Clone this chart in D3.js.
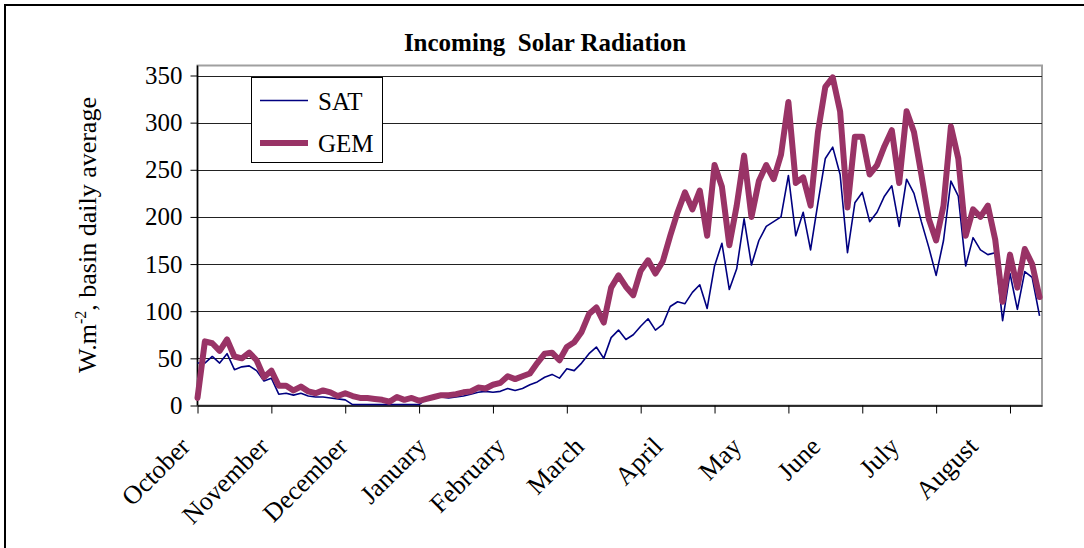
<!DOCTYPE html>
<html>
<head>
<meta charset="utf-8">
<script src="https://cdn.jsdelivr.net/npm/d3@7"></script>
<style>
body { margin: 0; background: #fff; }
text { font-family: "Liberation Serif", "Times New Roman", serif; fill: #000; }
</style>
</head>
<body>
<svg id="chart" width="1084" height="548"></svg>
<script>
// daily series, one value every 3 days starting 1 October
var dayStep = 3;
var satValues = [45,45,52,45,55,38,41,42,37,26,29,12,13,11,13,10,9,9,8,7,
                 6,1,1,1,1,1,1,1,1,1,1,7,8,9,8,9,10,12,14,15,
                 14,15,18,16,18,22,25,30,33,29,39,37,45,55,62,50,72,80,70,75,
                 84,92,80,86,105,110,108,120,128,103,148,172,123,145,198,149,175,190,195,200,
                 244,180,205,165,215,262,274,245,162,215,226,195,205,222,233,190,240,225,195,168,
                 138,175,238,222,148,178,165,160,162,90,140,102,142,136,95];
var gemValues = [8,68,66,58,70,52,50,56,48,30,37,21,21,16,20,15,13,16,14,10,
                 13,10,8,8,7,6,4,9,6,8,5,7,9,11,11,12,14,15,19,18,
                 22,24,31,28,31,34,45,55,56,48,62,67,78,97,104,88,125,138,126,117,
                 143,154,140,153,180,205,226,208,228,180,255,232,170,212,265,200,238,255,240,266,
                 322,236,242,212,290,338,348,312,210,285,285,245,255,275,292,236,312,290,245,198,
                 175,212,296,262,180,208,200,212,176,110,160,125,166,150,115];
var monthNames = ["October","November","December","January","February","March",
                  "April","May","June","July","August"];
var yTicks = [0,50,100,150,200,250,300,350];
var totalDays = 343, tickEvery = 30, labelEvery = 32;

var svg = d3.select("#chart");

var plotLeft = 197.5, plotRight = 1042, plotTop = 65.5, plotBottom = 405.5;

var x = d3.scaleLinear().domain([0, totalDays]).range([plotLeft, plotRight]);
var y = d3.scaleLinear().domain([0, 350]).range([plotBottom, 75.5]);

// outer frame
svg.append("rect")
    .attr("x", 5).attr("y", 5)
    .attr("width", 1200).attr("height", 700)
    .attr("fill", "none").attr("stroke", "#000").attr("stroke-width", 2);

// plot area
svg.append("rect")
    .attr("x", plotLeft).attr("y", plotTop)
    .attr("width", plotRight - plotLeft).attr("height", plotBottom - plotTop)
    .attr("fill", "#fff").attr("stroke", "#a0a0a0").attr("stroke-width", 2);

// gridlines
svg.append("g").selectAll("line")
    .data(yTicks.slice(1))
    .enter().append("line")
    .attr("x1", plotLeft).attr("x2", plotRight)
    .attr("y1", function(d) { return Math.round(y(d)) + 0.5; })
    .attr("y2", function(d) { return Math.round(y(d)) + 0.5; })
    .attr("stroke", "#222").attr("stroke-width", 1);

// y axis
var yAxis = svg.append("g")
    .attr("transform", "translate(" + plotLeft + ",0)")
    .call(d3.axisLeft(y).tickValues(yTicks).tickSize(7).tickPadding(8).tickSizeOuter(0));
yAxis.select(".domain").remove();
yAxis.selectAll("text").style("font-size", "25px").attr("font-family", null);
yAxis.selectAll("line").attr("stroke", "#000");
svg.append("line")
    .attr("x1", plotLeft).attr("x2", plotLeft).attr("y1", plotTop).attr("y2", plotBottom)
    .attr("stroke", "#000").attr("stroke-width", 1.5);

// x axis
var xAxis = svg.append("g")
    .attr("transform", "translate(0," + plotBottom + ")")
    .call(d3.axisBottom(x).tickValues(d3.range(0, totalDays, tickEvery))
        .tickSize(8).tickSizeOuter(0).tickFormat(""));
xAxis.select(".domain").attr("stroke", "#000").attr("stroke-width", 1.5);
xAxis.selectAll("line").attr("stroke", "#000");

svg.append("g").selectAll("text")
    .data(monthNames)
    .enter().append("text")
    .attr("text-anchor", "end")
    .attr("transform", function(d, i) {
        return "translate(" + (x(i * labelEvery) - 6) + ",448) rotate(-45)";
    })
    .style("font-size", "26px")
    .text(function(d) { return d; });

// series
var line = d3.line()
    .x(function(d, i) { return x(i * dayStep); })
    .y(function(d) { return y(d); });

svg.append("path")
    .datum(satValues)
    .attr("d", line)
    .attr("fill", "none").attr("stroke", "#000080").attr("stroke-width", 1.6)
    .attr("stroke-linejoin", "round");

svg.append("path")
    .datum(gemValues)
    .attr("d", line)
    .attr("fill", "none").attr("stroke", "#993366").attr("stroke-width", 6)
    .attr("stroke-linejoin", "round").attr("stroke-linecap", "round");

// legend
var legend = svg.append("g");
legend.append("rect")
    .attr("x", 251.5).attr("y", 77.5).attr("width", 131).attr("height", 85)
    .attr("fill", "#fff").attr("stroke", "#000").attr("stroke-width", 1);
var legendItems = [
    { label: "SAT", color: "#000080", width: 1.6, cy: 100.5 },
    { label: "GEM", color: "#993366", width: 6, cy: 143 }
];
legendItems.forEach(function(d) {
    legend.append("line")
        .attr("x1", 260).attr("x2", 308).attr("y1", d.cy).attr("y2", d.cy)
        .attr("stroke", d.color).attr("stroke-width", d.width);
    legend.append("text")
        .attr("x", 318).attr("y", d.cy + 9)
        .style("font-size", "25px")
        .text(d.label);
});

// title
svg.append("text")
    .attr("x", 545).attr("y", 51)
    .attr("text-anchor", "middle")
    .style("font-size", "25px").style("font-weight", "bold").style("white-space", "pre")
    .text("Incoming  Solar Radiation");

// y axis title
var yTitle = svg.append("text")
    .attr("transform", "translate(96,235) rotate(-90)")
    .attr("text-anchor", "middle")
    .style("font-size", "26px");
yTitle.append("tspan").text("W.m");
yTitle.append("tspan").attr("dy", -10).style("font-size", "16px").text("-2");
yTitle.append("tspan").attr("dy", 10).text(", basin daily average");
</script>
</body>
</html>
